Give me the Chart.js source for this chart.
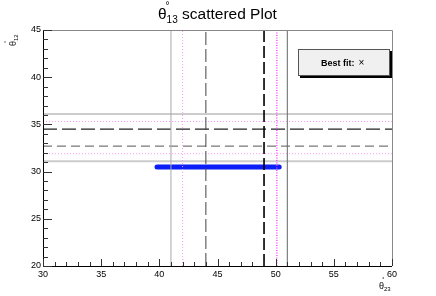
<!DOCTYPE html>
<html>
<head>
<meta charset="utf-8">
<script src="https://cdn.jsdelivr.net/npm/chart.js@4.4.0/dist/chart.umd.min.js"></script>
<style>
html,body{margin:0;padding:0;background:#fff;}
#wrap{position:relative;width:436px;height:296px;}
</style>
</head>
<body>
<div id="wrap"><canvas id="c" width="436" height="296"></canvas></div>
<script>
// ---- data ----
const xTickLabels = [30, 35, 40, 45, 50, 55, 60];
const yTickLabels = [20, 25, 30, 35, 40, 45];
const vLineValues = [41, 42, 44, 49, 50.1, 51];          // theta23 reference lines
const hLineValues = [36.1, 35.3, 34.5, 32.7, 31.9, 31.1];  // theta12 reference lines
const scatterX = [39.8, 40.5, 41.2, 42.0, 42.8, 43.5, 44.3, 45.0, 45.8, 46.5, 47.3, 48.0, 48.8, 49.5, 50.3];
const scatterY = [30.5, 30.5, 30.5, 30.5, 30.5, 30.5, 30.5, 30.5, 30.5, 30.5, 30.5, 30.5, 30.5, 30.5, 30.5];
const legendText = ['Best fit:', '×'];

const X_MIN = 30, X_MAX = 60, Y_MIN = 20, Y_MAX = 45;

// styles (not data)
const vStyles = [
  {c:'#aaaaaa', w:1, d:[]},
  {c:'#ff99ff', w:1, d:[1,2]},
  {c:'#444444', w:1, d:[13,4]},
  {c:'#000000', w:1.6, d:[12,4]},
  {c:'#ff33ff', w:1.3, d:[1,1.5]},
  {c:'#666666', w:1, d:[]}
];
const hStyles = [
  {c:'#999999', w:1, d:[]},
  {c:'#ff99ff', w:1, d:[1,2]},
  {c:'#222222', w:1.4, d:[14,5]},
  {c:'#555555', w:1, d:[9,5]},
  {c:'#ff99ff', w:1, d:[1,2]},
  {c:'#cccccc', w:2, d:[]}
];

const datasets = [];
vLineValues.forEach((v,i)=>{
  datasets.push({type:'line', data:[{x:v,y:Y_MIN},{x:v,y:Y_MAX}], borderColor:vStyles[i].c,
    borderWidth:vStyles[i].w, borderDash:vStyles[i].d, pointRadius:0, fill:false});
});
hLineValues.forEach((v,i)=>{
  datasets.push({type:'line', data:[{x:X_MIN,y:v},{x:X_MAX,y:v}], borderColor:hStyles[i].c,
    borderWidth:hStyles[i].w, borderDash:hStyles[i].d, pointRadius:0, fill:false});
});
datasets.push({type:'line', data:scatterX.map((x,i)=>({x:x,y:scatterY[i]})), borderColor:'rgb(10,30,245)',
  borderWidth:5, borderCapStyle:'round', borderJoinStyle:'round', pointRadius:0, fill:false, tension:0});

const FONT = '"Liberation Sans", Arial, Helvetica, sans-serif';

const rootPlugin = {
  id:'rootStyle',
  afterDraw(chart){
    const ctx = chart.ctx;
    const xs = chart.scales.x, ys = chart.scales.y;
    const a = chart.chartArea;
    ctx.save();
    ctx.setLineDash([]);
    // frame top/right
    ctx.strokeStyle = '#888';
    ctx.lineWidth = 1;
    ctx.beginPath();
    ctx.moveTo(a.left, a.top+0.5); ctx.lineTo(a.right+0.5, a.top+0.5); ctx.lineTo(a.right+0.5, a.bottom);
    ctx.stroke();
    // axes
    ctx.strokeStyle = '#000';
    ctx.beginPath();
    ctx.moveTo(a.left+0.5, a.top); ctx.lineTo(a.left+0.5, a.bottom+0.5); ctx.lineTo(a.right, a.bottom+0.5);
    ctx.stroke();
    // y ticks
    ctx.strokeStyle = '#333';
    for(let v=Y_MIN; v<=Y_MAX; v+=1){
      const py = Math.round(ys.getPixelForValue(v))+0.5;
      const len = (v%5===0)?9:5;
      ctx.beginPath(); ctx.moveTo(a.left, py); ctx.lineTo(a.left+len, py); ctx.stroke();
    }
    for(let v=X_MIN; v<=X_MAX; v+=1){
      const px = Math.round(xs.getPixelForValue(v))+0.5;
      const len = (v%5===0)?7:4;
      ctx.beginPath(); ctx.moveTo(px, a.bottom); ctx.lineTo(px, a.bottom-len); ctx.stroke();
    }
    // tick labels
    ctx.fillStyle = '#000';
    ctx.font = '9px ' + FONT;
    ctx.textAlign = 'right'; ctx.textBaseline = 'middle';
    yTickLabels.forEach(v=>{
      ctx.fillText(String(v), a.left-2, ys.getPixelForValue(v));
    });
    ctx.textAlign = 'center'; ctx.textBaseline = 'top';
    xTickLabels.forEach(v=>{
      ctx.fillText(String(v), xs.getPixelForValue(v), a.bottom+4);
    });
    // title
    ctx.textBaseline = 'alphabetic';
    ctx.textAlign = 'left';
    ctx.font = '15.5px ' + FONT;
    const tx = 158, ty = 19;
    ctx.fillText('θ', tx, ty);
    const thW = ctx.measureText('θ').width;
    ctx.font = '10px ' + FONT;
    ctx.fillText('°', tx+thW-1, ty-10);
    ctx.fillText('13', tx+thW, ty+4);
    const subW = ctx.measureText('13').width;
    ctx.font = '15.5px ' + FONT;
    ctx.fillText(' scattered Plot', tx+thW+subW, ty);
    // x axis label
    ctx.font = '9px ' + FONT;
    ctx.fillText('θ', 379, 289);
    ctx.font = '6px ' + FONT;
    ctx.fillText('°', 382, 281);
    ctx.fillText('23', 384, 291);
    // y axis label (rotated)
    ctx.save();
    ctx.translate(16, 46);
    ctx.rotate(-Math.PI/2);
    ctx.font = '9px ' + FONT;
    ctx.fillText('θ', 0, 0);
    ctx.font = '6px ' + FONT;
    ctx.fillText('°', 3, -8);
    ctx.fillText('12', 5, 2);
    ctx.restore();
    // legend box
    const bx = 298, by = 49, bw = 92, bh = 27;
    ctx.fillStyle = '#000';
    ctx.fillRect(bx+2, by+2, bw, bh);
    ctx.fillStyle = '#f0f0f0';
    ctx.fillRect(bx, by, bw, bh);
    ctx.strokeStyle = '#555';
    ctx.lineWidth = 1;
    ctx.strokeRect(bx+0.5, by+0.5, bw-1, bh-1);
    ctx.fillStyle = '#000';
    ctx.textBaseline = 'middle';
    ctx.font = 'bold 9px ' + FONT;
    ctx.fillText(legendText[0], 321, by+bh/2+1);
    const lw = ctx.measureText(legendText[0]).width;
    ctx.font = '10px ' + FONT;
    ctx.fillText(legendText[1], 321+lw+4, by+bh/2+1);
    ctx.restore();
  }
};

new Chart(document.getElementById('c'), {
  type:'line',
  data:{datasets:datasets},
  options:{
    responsive:false,
    animation:false,
    events:[],
    layout:{padding:{left:43, right:44, top:30, bottom:30}},
    plugins:{legend:{display:false}, tooltip:{enabled:false}, title:{display:false}},
    scales:{
      x:{type:'linear', min:X_MIN, max:X_MAX, display:false},
      y:{type:'linear', min:Y_MIN, max:Y_MAX, display:false}
    }
  },
  plugins:[rootPlugin]
});
</script>
</body>
</html>
